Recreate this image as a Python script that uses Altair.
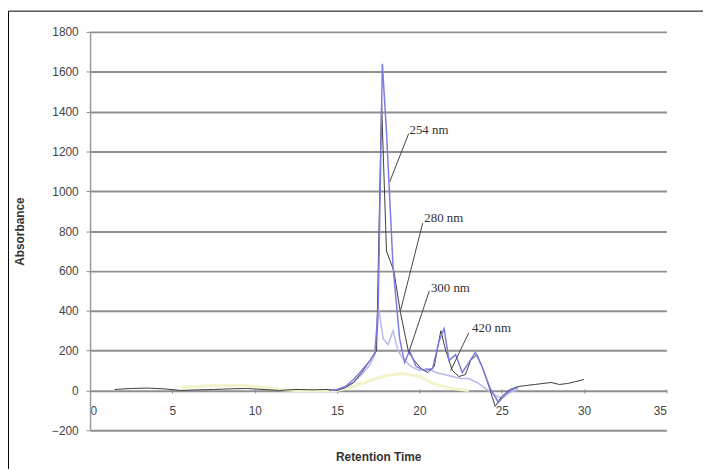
import altair as alt
import pandas as pd

# ---- data ----
x254 = [14.5, 15, 15.5, 16, 16.5, 17, 17.3, 17.5, 17.75, 18.0, 18.4, 18.8, 19.1, 19.4, 19.8,
        20.3, 20.8, 21.2, 21.5, 21.8, 22.2, 22.6, 23.0, 23.4, 23.8, 24.3, 24.8, 25.2, 25.6, 26.0]
y254 = [0, 5, 20, 55, 100, 150, 190, 420, 1640, 1300, 620, 260, 140, 200, 120,
        100, 110, 250, 310, 150, 180, 90, 140, 190, 120, 10, -60, -20, 5, 15]

x280 = [1.5, 2.5, 3.5, 4.5, 5.5, 6.5, 7.5, 8.5, 9.5, 10.5, 11.5, 12.5, 13.5, 14.5, 15.0, 15.5,
        16, 16.5, 17, 17.4, 17.7, 18.0, 18.45, 18.85, 19.35, 19.7, 20.1, 20.5, 20.9, 21.3,
        21.6, 22.0, 22.4, 22.8, 23.1, 23.5, 23.9, 24.3, 24.6, 25.0, 25.5, 26, 26.5, 27, 27.5,
        28, 28.5, 29, 29.5, 30]
y280 = [5, 10, 12, 8, 0, 3, 5, 8, 10, 5, 0, 5, 3, 5, 0, 15,
        40, 90, 150, 200, 1450, 700, 600, 390, 190, 150, 110, 90, 120, 300,
        200, 100, 70, 80, 150, 180, 100, 0, -80, -30, 5, 20, 25, 30, 35,
        40, 30, 35, 45, 55]

x300 = [15, 15.5, 16, 16.5, 17, 17.3, 17.55, 17.8, 18.1, 18.4, 18.7, 19.0, 19.5, 20, 20.5,
        21, 21.5, 22, 22.5, 23, 23.5, 24, 24.5, 25, 25.5, 26]
y300 = [0, 15, 40, 80, 130, 180, 400, 260, 230, 300, 200, 160, 120, 100, 110,
        90, 80, 70, 60, 60, 40, 10, -20, -40, -10, 5]

x420 = [5.5, 6.5, 7.5, 8.5, 9.5, 10.5, 11.5, 12.5, 14, 15, 16, 17, 18, 19, 20, 20.5, 21, 22, 23]
y420 = [15, 20, 25, 25, 25, 15, 5, 0, 0, 0, 20, 50, 75, 85, 70, 50, 30, 10, 0]

series_names = ["420 nm", "300 nm", "280 nm", "254 nm"]
series_colors = ["#f3f3cc", "#b8b8ec", "#3c3c3c", "#7c7ce2"]
series_widths = [3, 1.5, 1, 1.5]
series_x = [x420, x300, x280, x254]
series_y = [y420, y300, y280, y254]

# annotation labels and leader lines
ann_text = ["254 nm", "280 nm", "300 nm", "420 nm"]
ann_tx = [19.4, 20.3, 20.7, 23.2]
ann_ty = [1305, 865, 516, 312]
lead_x1 = [18.2, 18.85, 19.35, 21.9]
lead_y1 = [1048, 400, 190, 100]
lead_x2 = [19.35, 20.2, 20.6, 23.0]
lead_y2 = [1290, 840, 500, 290]

y_ticks = list(range(-200, 1801, 200))
x_ticks = list(range(0, 36, 5))

W, H = 583, 403

xs = alt.Scale(domain=[0, 35], nice=False)
ys = alt.Scale(domain=[-200, 1800], nice=False)

# base layer with axes
axis_df = pd.DataFrame({"x": [0, 35], "y": [-200, 1800]})
base = alt.Chart(axis_df).mark_point(opacity=0).encode(
    x=alt.X("x:Q", scale=xs, title="Retention Time",
            axis=alt.Axis(values=x_ticks, grid=False, offset=-41.8, domain=False,
                          tickSize=4, tickColor="#888888", labelPadding=13,
                          labelFont="Liberation Sans", labelFontSize=12, labelColor="#444444",
                          titleFont="Liberation Sans", titleFontSize=12, titleFontWeight="bold",
                          titleColor="#333333", titleY=63)),
    y=alt.Y("y:Q", scale=ys, title="Absorbance",
            axis=alt.Axis(values=y_ticks, format="d", grid=True, gridColor="#8f8f8f",
                          gridWidth=2, domainColor="#999999", domainWidth=1.5,
                          tickSize=4, tickColor="#888888", labelPadding=8,
                          labelFont="Liberation Sans", labelFontSize=12, labelColor="#444444",
                          titleFont="Liberation Sans", titleFontSize=12, titleFontWeight="bold",
                          titleColor="#333333", titleX=-64)),
)

layers = [base]
for name, col, w, sx, sy in zip(series_names, series_colors, series_widths, series_x, series_y):
    df = pd.DataFrame({"x": sx, "y": sy, "series": name})
    layers.append(alt.Chart(df).mark_line(color=col, strokeWidth=w).encode(
        x=alt.X("x:Q", scale=xs), y=alt.Y("y:Q", scale=ys)))

lead_df = pd.DataFrame({"x1": lead_x1, "y1": lead_y1, "x2": lead_x2, "y2": lead_y2})
layers.append(alt.Chart(lead_df).mark_rule(color="#444444", strokeWidth=1).encode(
    x=alt.X("x1:Q", scale=xs), y=alt.Y("y1:Q", scale=ys), x2="x2:Q", y2="y2:Q"))

ann_df = pd.DataFrame({"t": ann_text, "x": ann_tx, "y": ann_ty})
layers.append(alt.Chart(ann_df).mark_text(align="left", baseline="middle", font="Liberation Serif",
                                          fontSize=13, color="#333333").encode(
    x=alt.X("x:Q", scale=xs), y=alt.Y("y:Q", scale=ys), text="t:N"))

# outer frame of the chart (top and left border)
frame_df = pd.DataFrame({"k": [0]})
layers.append(alt.Chart(frame_df).mark_rule(color="#000000", strokeWidth=1).encode(
    x=alt.value(-82.5), x2=alt.value(620), y=alt.value(-21)))
layers.append(alt.Chart(frame_df).mark_rule(color="#000000", strokeWidth=1).encode(
    x=alt.value(-82.5), y=alt.value(-21), y2=alt.value(442)))

chart = alt.layer(*layers).properties(
    width=W, height=H,
    padding={"left": 83, "top": 21.5, "right": 37, "bottom": 38.5},
    autosize=alt.AutoSizeParams(type="none"),
    background="white",
).configure_view(stroke=None)

chart.save("out.html", embed_options={"renderer": "svg", "actions": False})
